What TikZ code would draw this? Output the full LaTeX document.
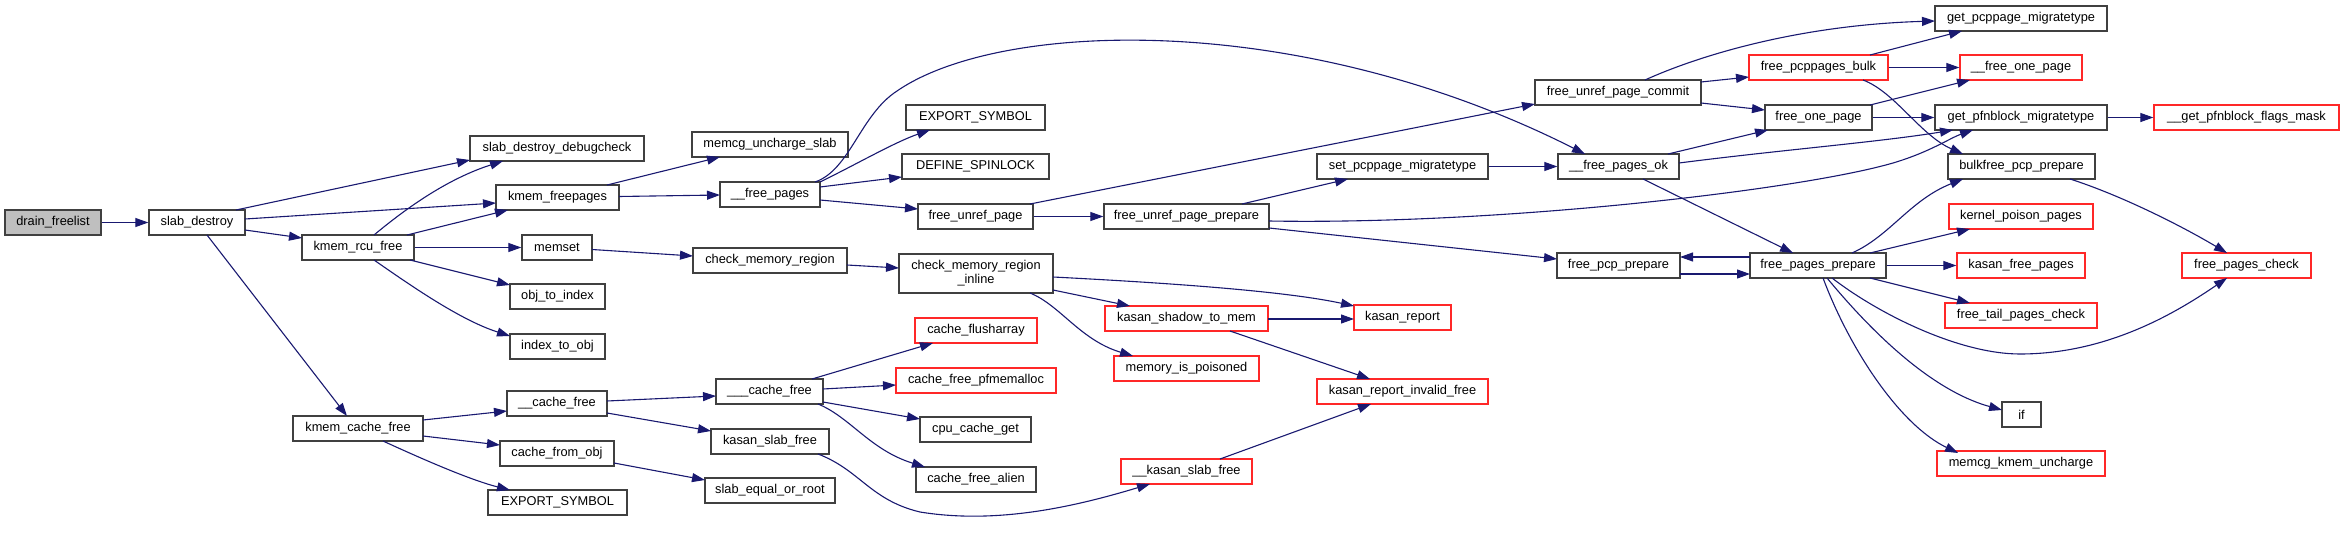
\documentclass[tikz,border=0pt]{standalone}
\usepackage{fontspec}
\setmainfont{Liberation Sans}
\usetikzlibrary{arrows.meta}
\definecolor{edgec}{RGB}{25,25,112}
\definecolor{boxc}{RGB}{64,64,64}
\definecolor{redc}{RGB}{255,40,40}
\definecolor{fillg}{RGB}{191,191,191}
\begin{document}
\begin{tikzpicture}[x=1pt,y=-1pt,
  fn/.style={draw=boxc, line width=1.3pt, fill=white, inner sep=0pt, minimum height=25pt, font=\fontsize{12.8}{14}\selectfont, anchor=center, align=center},
  redfn/.style={fn, draw=redc},
  call/.style={draw=edgec, line width=1.1pt, -{Triangle[length=13pt,width=9pt]}},
]
\path[use as bounding box] (0,0) rectangle (2344,535);
% nodes
\node[fn, fill=fillg, minimum width=96pt] (df) at (53,222.5) {drain\_freelist};
\node[fn, minimum width=96pt] (sd) at (197,222.5) {slab\_destroy};
\node[fn, minimum width=112pt] (krf) at (358,247.5) {kmem\_rcu\_free};
\node[fn, minimum width=130pt] (kcf) at (358,428.5) {kmem\_cache\_free};
\node[fn, minimum width=174pt] (sdd) at (557,148.5) {slab\_destroy\_debugcheck};
\node[fn, minimum width=123pt] (kfp) at (557.5,197.5) {kmem\_freepages};
\node[fn, minimum width=70pt] (ms) at (557,247.5) {memset};
\node[fn, minimum width=95pt] (oti) at (557.5,296.5) {obj\_to\_index};
\node[fn, minimum width=95pt] (ito) at (557.5,346.5) {index\_to\_obj};
\node[fn, minimum width=100pt] (cf) at (557,403.5) {\_\_cache\_free};
\node[fn, minimum width=114pt] (cfo) at (557,453.5) {cache\_from\_obj};
\node[fn, minimum width=139pt] (es2) at (557.5,502.5) {EXPORT\_SYMBOL};
\node[fn, minimum width=156pt] (mus) at (770,144.5) {memcg\_uncharge\_slab};
\node[fn, minimum width=100pt] (fp) at (770,194.5) {\_\_free\_pages};
\node[fn, minimum width=154pt] (cmr) at (770,260.5) {check\_memory\_region};
\node[fn, minimum width=107pt] (ccf) at (769.5,391.5) {\_\_\_cache\_free};
\node[fn, minimum width=118pt] (ksf) at (770,441.5) {kasan\_slab\_free};
\node[fn, minimum width=130pt] (seor) at (770,490.5) {slab\_equal\_or\_root};
\node[fn, minimum width=139pt] (es1) at (975.5,117.5) {EXPORT\_SYMBOL};
\node[fn, minimum width=147pt] (dsl) at (975.5,166.5) {DEFINE\_SPINLOCK};
\node[fn, minimum width=115pt] (fup) at (975.5,216.5) {free\_unref\_page};
\node[fn, minimum width=154pt, minimum height=39pt] (cmri) at (976,273.5) {check\_memory\_region\\\_inline};
\node[redfn, minimum width=122pt] (cfa) at (976,330.5) {cache\_flusharray};
\node[redfn, minimum width=160pt] (cfp) at (976,380.5) {cache\_free\_pfmemalloc};
\node[fn, minimum width=111pt] (ccg) at (975.5,429.5) {cpu\_cache\_get};
\node[fn, minimum width=120pt] (cfal) at (976,479.5) {cache\_free\_alien};
\node[fn, minimum width=165pt] (fupp) at (1186.5,216.5) {free\_unref\_page\_prepare};
\node[redfn, minimum width=163pt] (kstm) at (1186.5,318.5) {kasan\_shadow\_to\_mem};
\node[redfn, minimum width=145pt] (mip) at (1186.5,368.5) {memory\_is\_poisoned};
\node[redfn, minimum width=131pt] (kksf) at (1186.5,471.5) {\_\_kasan\_slab\_free};
\node[fn, minimum width=171pt] (spm) at (1402.5,166.5) {set\_pcppage\_migratetype};
\node[redfn, minimum width=97pt] (kr) at (1402.5,317.5) {kasan\_report};
\node[redfn, minimum width=171pt] (krif) at (1402.5,391.5) {kasan\_report\_invalid\_free};
\node[fn, minimum width=166pt] (fupc) at (1618,92.5) {free\_unref\_page\_commit};
\node[fn, minimum width=121pt] (fpo) at (1618.5,166.5) {\_\_free\_pages\_ok};
\node[fn, minimum width=123pt] (fpcp) at (1618.5,265.5) {free\_pcp\_prepare};
\node[redfn, minimum width=139pt] (fpb) at (1818.5,67.5) {free\_pcppages\_bulk};
\node[fn, minimum width=107pt] (fop) at (1818.5,117.5) {free\_one\_page};
\node[fn, minimum width=136pt] (fpp) at (1818,265.5) {free\_pages\_prepare};
\node[fn, minimum width=172pt] (gpm) at (2021,18.5) {get\_pcppage\_migratetype};
\node[redfn, minimum width=122pt] (ffop) at (2021,67.5) {\_\_free\_one\_page};
\node[fn, minimum width=172pt] (gpfm) at (2021,117.5) {get\_pfnblock\_migratetype};
\node[fn, minimum width=147pt] (bpp) at (2021.5,166.5) {bulkfree\_pcp\_prepare};
\node[redfn, minimum width=144pt] (kpp) at (2021,216.5) {kernel\_poison\_pages};
\node[redfn, minimum width=128pt] (kfpg) at (2021,265.5) {kasan\_free\_pages};
\node[redfn, minimum width=152pt] (ftpc) at (2021,315.5) {free\_tail\_pages\_check};
\node[fn, minimum width=39pt] (iff) at (2021.5,414.5) {if};
\node[redfn, minimum width=168pt] (mku) at (2021,463.5) {memcg\_kmem\_uncharge};
\node[redfn, minimum width=185pt] (gpfl) at (2246.5,117.5) {\_\_get\_pfnblock\_flags\_mask};
\node[redfn, minimum width=129pt] (fpc) at (2246.5,265.5) {free\_pages\_check};
% edges
\draw[call] (df) -- (sd);
\draw[call] ([shift={(39,-12.5)}]sd.center) -- ([shift={(-87,11.5)}]sdd.center);
\draw[call] ([shift={(48,-3.5)}]sd.center) -- ([shift={(-61.5,5.5)}]kfp.center);
\draw[call] ([shift={(48,7.5)}]sd.center) -- ([shift={(-56,-9.5)}]krf.center);
\draw[call] ([shift={(10,12.5)}]sd.center) -- ([shift={(-11,-12.5)}]kcf.center);
\draw[call] ([shift={(16,-12.5)}]krf.center) .. controls (410,205) and (450,178) .. ([shift={(-54,12.5)}]sdd.center);
\draw[call] ([shift={(49,-12.5)}]krf.center) -- ([shift={(-49.5,12.5)}]kfp.center);
\draw[call] (krf) -- (ms);
\draw[call] ([shift={(52,12.5)}]krf.center) -- ([shift={(-47.5,-11.5)}]oti.center);
\draw[call] ([shift={(16,12.5)}]krf.center) .. controls (410,285) and (460,320) .. ([shift={(-47.5,-10.5)}]ito.center);
\draw[call] ([shift={(49.5,-12.5)}]kfp.center) -- ([shift={(-50,12.5)}]mus.center);
\draw[call] ([shift={(61.5,-1)}]kfp.center) -- ([shift={(-50,0.5)}]fp.center);
\draw[call] ([shift={(50,-12.5)}]fp.center) .. controls (855,165) and (895,142) .. ([shift={(-45.5,12.5)}]es1.center);
\draw[call] ([shift={(50,-7.5)}]fp.center) -- ([shift={(-73.5,10.5)}]dsl.center);
\draw[call] ([shift={(50,5.5)}]fp.center) -- ([shift={(-57.5,-7.5)}]fup.center);
\draw[call] ([shift={(45,-12.5)}]fp.center) .. controls (850,170) and (860,115) .. (897,91) .. controls (1000,20) and (1300,10) .. ([shift={(-33.5,-12.5)}]fpo.center);
\draw[call] (fup) -- (fupp);
\draw[call] ([shift={(54.5,-12.5)}]fup.center) -- ([shift={(-83,11.5)}]fupc.center);
\draw[call] ([shift={(55.5,-12.5)}]fupp.center) -- ([shift={(-54.5,12.5)}]spm.center);
\draw[call] ([shift={(82.5,11.5)}]fupp.center) -- ([shift={(-61.5,-6.5)}]fpcp.center);
\draw[call] ([shift={(82.5,4.5)}]fupp.center) .. controls (1500,225) and (1800,190) .. (1893,163) .. controls (1930,152) and (1950,138) .. ([shift={(-48,12.5)}]gpfm.center);
\draw[call] (spm) -- (fpo);
\draw[call] ([shift={(49.5,-12.5)}]fpo.center) -- ([shift={(-50.5,12.5)}]fop.center);
\draw[call] ([shift={(60.5,-3.5)}]fpo.center) .. controls (1780,150) and (1880,142) .. ([shift={(-68,12.5)}]gpfm.center);
\draw[call] ([shift={(24.5,12.5)}]fpo.center) -- ([shift={(-25,-12.5)}]fpp.center);
\draw[call] ([shift={(27,-12.5)}]fupc.center) .. controls (1700,55) and (1800,25) .. ([shift={(-86,2.5)}]gpm.center);
\draw[call] ([shift={(83,-10.5)}]fupc.center) -- ([shift={(-69.5,9.5)}]fpb.center);
\draw[call] ([shift={(83,10.5)}]fupc.center) -- ([shift={(-53.5,-7.5)}]fop.center);
\draw[call] ([shift={(51.5,-12.5)}]fpb.center) -- ([shift={(-59,12.5)}]gpm.center);
\draw[call] (fpb) -- (ffop);
\draw[call] ([shift={(44.5,12.5)}]fpb.center) .. controls (1895,92) and (1920,135) .. ([shift={(-58.5,-12.5)}]bpp.center);
\draw[call] ([shift={(51.5,-12.5)}]fop.center) -- ([shift={(-51,12.5)}]ffop.center);
\draw[call] (fop) -- (gpfm);
\draw[call] (gpfm) -- (gpfl);
\draw[call] ([shift={(48.5,12.5)}]bpp.center) .. controls (2120,195) and (2180,225) .. ([shift={(-19.5,-12.5)}]fpc.center);
\draw[call] ([shift={(61.5,8.5)}]fpcp.center) -- ([shift={(-68,8.5)}]fpp.center);
\draw[call] ([shift={(-68,-8.5)}]fpp.center) -- ([shift={(61.5,-8.5)}]fpcp.center);
\draw[call] ([shift={(34,-12.5)}]fpp.center) .. controls (1890,236) and (1910,200) .. ([shift={(-58.5,12.5)}]bpp.center);
\draw[call] ([shift={(52,-12.5)}]fpp.center) -- ([shift={(-51,12.5)}]kpp.center);
\draw[call] (fpp) -- (kfpg);
\draw[call] ([shift={(52,12.5)}]fpp.center) -- ([shift={(-51,-12.5)}]ftpc.center);
\draw[call] ([shift={(14,12.5)}]fpp.center) .. controls (1880,315) and (1960,354) .. (2020,354) .. controls (2110,354) and (2180,310) .. ([shift={(-19.5,12.5)}]fpc.center);
\draw[call] ([shift={(9,12.5)}]fpp.center) .. controls (1870,330) and (1930,390) .. ([shift={(-19.5,-4.5)}]iff.center);
\draw[call] ([shift={(5,12.5)}]fpp.center) .. controls (1850,350) and (1900,425) .. ([shift={(-63,-10.5)}]mku.center);
\draw[call] ([shift={(35,2)}]ms.center) -- ([shift={(-77,-4.5)}]cmr.center);
\draw[call] ([shift={(77,4.5)}]cmr.center) -- ([shift={(-77,-5.5)}]cmri.center);
\draw[call] ([shift={(77,3.5)}]cmri.center) .. controls (1150,282) and (1280,290) .. ([shift={(-48.5,-11.5)}]kr.center);
\draw[call] ([shift={(77,16.5)}]cmri.center) -- ([shift={(-56.5,-12.5)}]kstm.center);
\draw[call] ([shift={(54,19.5)}]cmri.center) .. controls (1060,305) and (1080,340) .. ([shift={(-53.5,-12.5)}]mip.center);
\draw[call] ([shift={(81.5,0.5)}]kstm.center) -- ([shift={(-48.5,1.5)}]kr.center);
\draw[call] ([shift={(43.5,12.5)}]kstm.center) -- ([shift={(-32.5,-12.5)}]krif.center);
\draw[call] ([shift={(33.5,-12.5)}]kksf.center) -- ([shift={(-31.5,12.5)}]krif.center);
\draw[call] ([shift={(65,-8.5)}]kcf.center) -- ([shift={(-50,7.5)}]cf.center);
\draw[call] ([shift={(65,7.5)}]kcf.center) -- ([shift={(-57,-8.5)}]cfo.center);
\draw[call] ([shift={(25,12.5)}]kcf.center) .. controls (420,458) and (470,480) .. ([shift={(-47.5,-12.5)}]es2.center);
\draw[call] ([shift={(50,-2.5)}]cf.center) -- ([shift={(-53.5,4.5)}]ccf.center);
\draw[call] ([shift={(50,9.5)}]cf.center) -- ([shift={(-59,-10.5)}]ksf.center);
\draw[call] ([shift={(42.5,-12.5)}]ccf.center) -- ([shift={(-43,12.5)}]cfa.center);
\draw[call] ([shift={(53.5,-2.5)}]ccf.center) -- ([shift={(-80,4.5)}]cfp.center);
\draw[call] ([shift={(53.5,10.5)}]ccf.center) -- ([shift={(-55.5,-10.5)}]ccg.center);
\draw[call] ([shift={(48.5,12.5)}]ccf.center) .. controls (850,417) and (870,450) .. ([shift={(-51,-12.5)}]cfal.center);
\draw[call] ([shift={(48,12.5)}]ksf.center) .. controls (860,470) and (870,500) .. (920,512) .. controls (1000,525) and (1080,505) .. ([shift={(-36.5,12.5)}]kksf.center);
\draw[call] ([shift={(57,9.5)}]cfo.center) -- ([shift={(-65,-10.5)}]seor.center);
\end{tikzpicture}
\end{document}
